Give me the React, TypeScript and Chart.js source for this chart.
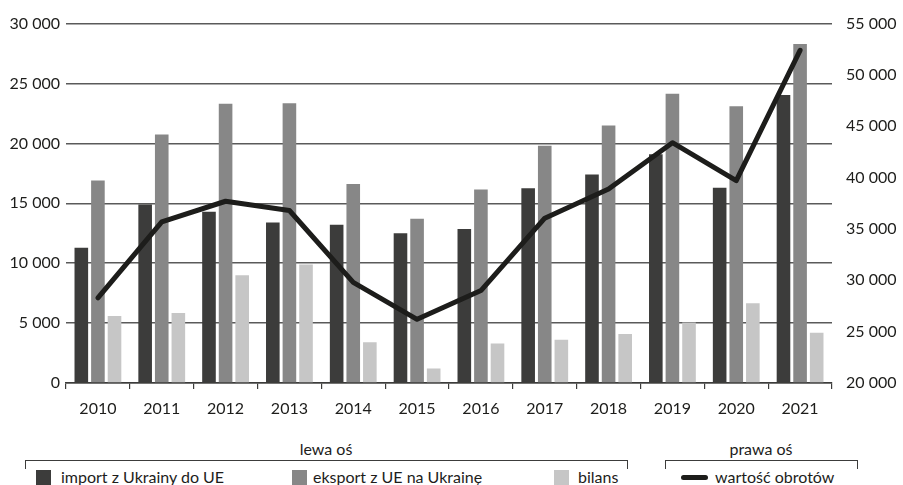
import React, { useEffect, useRef } from "react";
import { Chart, registerables } from "chart.js";

Chart.register(...registerables);

const years = ["2010", "2011", "2012", "2013", "2014", "2015", "2016", "2017", "2018", "2019", "2020", "2021"];
const importUA = [11300, 14900, 14300, 13400, 13200, 12500, 12850, 16250, 17400, 19100, 16300, 24050];
const exportUE = [16900, 20750, 23300, 23350, 16620, 13700, 16150, 19800, 21500, 24150, 23100, 28300];
const bilans = [5600, 5850, 9000, 9900, 3400, 1200, 3300, 3600, 4100, 5050, 6650, 4200];
const obroty = [28300, 35700, 37700, 36800, 29800, 26200, 29000, 36050, 38900, 43400, 39700, 52400];

const leftTicks = { min: 0, max: 30000, step: 5000 };
const rightTicks = { min: 20000, max: 55000, step: 5000 };

const FONT = "Lato, 'Open Sans', sans-serif";
const TEXT = "#1d1d1b";

const fmt = (v: number) => String(v).replace(/\B(?=(\d{3})+(?!\d))/g, " ");

export default function App() {
  const ref = useRef<HTMLCanvasElement | null>(null);

  useEffect(() => {
    if (!ref.current) return;
    const chart = new Chart(ref.current, {
      type: "bar",
      data: {
        labels: years,
        datasets: [
          {
            type: "line",
            label: "wartość obrotów",
            data: obroty,
            yAxisID: "y1",
            borderColor: "#1d1d1b",
            backgroundColor: "#1d1d1b",
            borderWidth: 5,
            pointRadius: 0,
            borderCapStyle: "round",
            borderJoinStyle: "round",
            tension: 0,
            order: 0,
          } as any,
          {
            label: "import z Ukrainy do UE",
            data: importUA,
            yAxisID: "y",
            backgroundColor: "#3c3c3b",
            categoryPercentage: 0.78,
            barPercentage: 0.82,
            order: 1,
          },
          {
            label: "eksport z UE na Ukrainę",
            data: exportUE,
            yAxisID: "y",
            backgroundColor: "#878787",
            categoryPercentage: 0.78,
            barPercentage: 0.82,
            order: 1,
          },
          {
            label: "bilans",
            data: bilans,
            yAxisID: "y",
            backgroundColor: "#c6c6c6",
            categoryPercentage: 0.78,
            barPercentage: 0.82,
            order: 1,
          },
        ],
      },
      options: {
        animation: false,
        responsive: false,
        maintainAspectRatio: false,
        layout: { padding: { top: 20, left: 0, right: 0, bottom: 0 } },
        plugins: { legend: { display: false }, tooltip: { enabled: false } },
        scales: {
          x: {
            offset: true,
            grid: {
              display: true,
              offset: true,
              drawOnChartArea: false,
              drawTicks: true,
              tickLength: 6,
              color: "#3c3c3b",
              lineWidth: 1.2,
            },
            border: { display: true, color: "#3c3c3b", width: 1.5 },
            ticks: { color: TEXT, font: { family: FONT, size: 16 }, padding: 10, maxRotation: 0 },
            afterFit: (s: any) => {
              s.height = 47;
            },
          },
          y: {
            position: "left",
            min: leftTicks.min,
            max: leftTicks.max,
            grid: { color: "#5a5a5a", lineWidth: 1.5, drawTicks: false },
            border: { display: false },
            ticks: {
              stepSize: leftTicks.step,
              color: TEXT,
              font: { family: FONT, size: 16 },
              padding: 6,
              callback: (v: any) => fmt(Number(v)),
            },
            afterFit: (s: any) => {
              s.width = 66;
            },
          },
          y1: {
            position: "right",
            min: rightTicks.min,
            max: rightTicks.max,
            grid: { display: false, drawTicks: false },
            border: { display: false },
            ticks: {
              stepSize: rightTicks.step,
              color: TEXT,
              font: { family: FONT, size: 16 },
              padding: 14,
              callback: (v: any) => fmt(Number(v)),
            },
            afterFit: (s: any) => {
              s.width = 71;
            },
          },
        },
      },
    });
    return () => chart.destroy();
  }, []);

  const txt: React.CSSProperties = {
    position: "absolute",
    fontFamily: FONT,
    fontSize: 16,
    color: TEXT,
    lineHeight: "16px",
    whiteSpace: "nowrap",
  };
  const sq = (left: number, color: string): React.CSSProperties => ({
    position: "absolute",
    left,
    top: 470,
    width: 15,
    height: 15,
    background: color,
  });

  return (
    <div style={{ position: "absolute", left: 0, top: 0, width: 903, height: 485, background: "#fff", overflow: "hidden" }}>
      <canvas ref={ref} width={903} height={430} style={{ position: "absolute", left: 0, top: 0, width: 903, height: 430 }} />
      <div style={{ ...txt, left: 25, width: 602, textAlign: "center", top: 441 }}>lewa oś</div>
      <div style={{ ...txt, left: 665, width: 192, textAlign: "center", top: 441 }}>prawa oś</div>
      <div style={{ position: "absolute", left: 25, top: 460, width: 601, height: 8, borderTop: "1px solid #3c3c3b", borderLeft: "1px solid #3c3c3b", borderRight: "1px solid #3c3c3b" }} />
      <div style={{ position: "absolute", left: 665, top: 460, width: 191, height: 8, borderTop: "1px solid #3c3c3b", borderLeft: "1px solid #3c3c3b", borderRight: "1px solid #3c3c3b" }} />
      <div style={sq(36, "#3c3c3b")} />
      <div style={{ ...txt, left: 61, top: 469 }}>import z Ukrainy do UE</div>
      <div style={sq(292, "#878787")} />
      <div style={{ ...txt, left: 313, top: 469 }}>eksport z UE na Ukrainę</div>
      <div style={sq(554, "#c6c6c6")} />
      <div style={{ ...txt, left: 578, top: 469 }}>bilans</div>
      <div style={{ position: "absolute", left: 681, top: 475, width: 27, height: 5, borderRadius: 3, background: "#1d1d1b" }} />
      <div style={{ ...txt, left: 715, top: 469 }}>wartość obrotów</div>
    </div>
  );
}
